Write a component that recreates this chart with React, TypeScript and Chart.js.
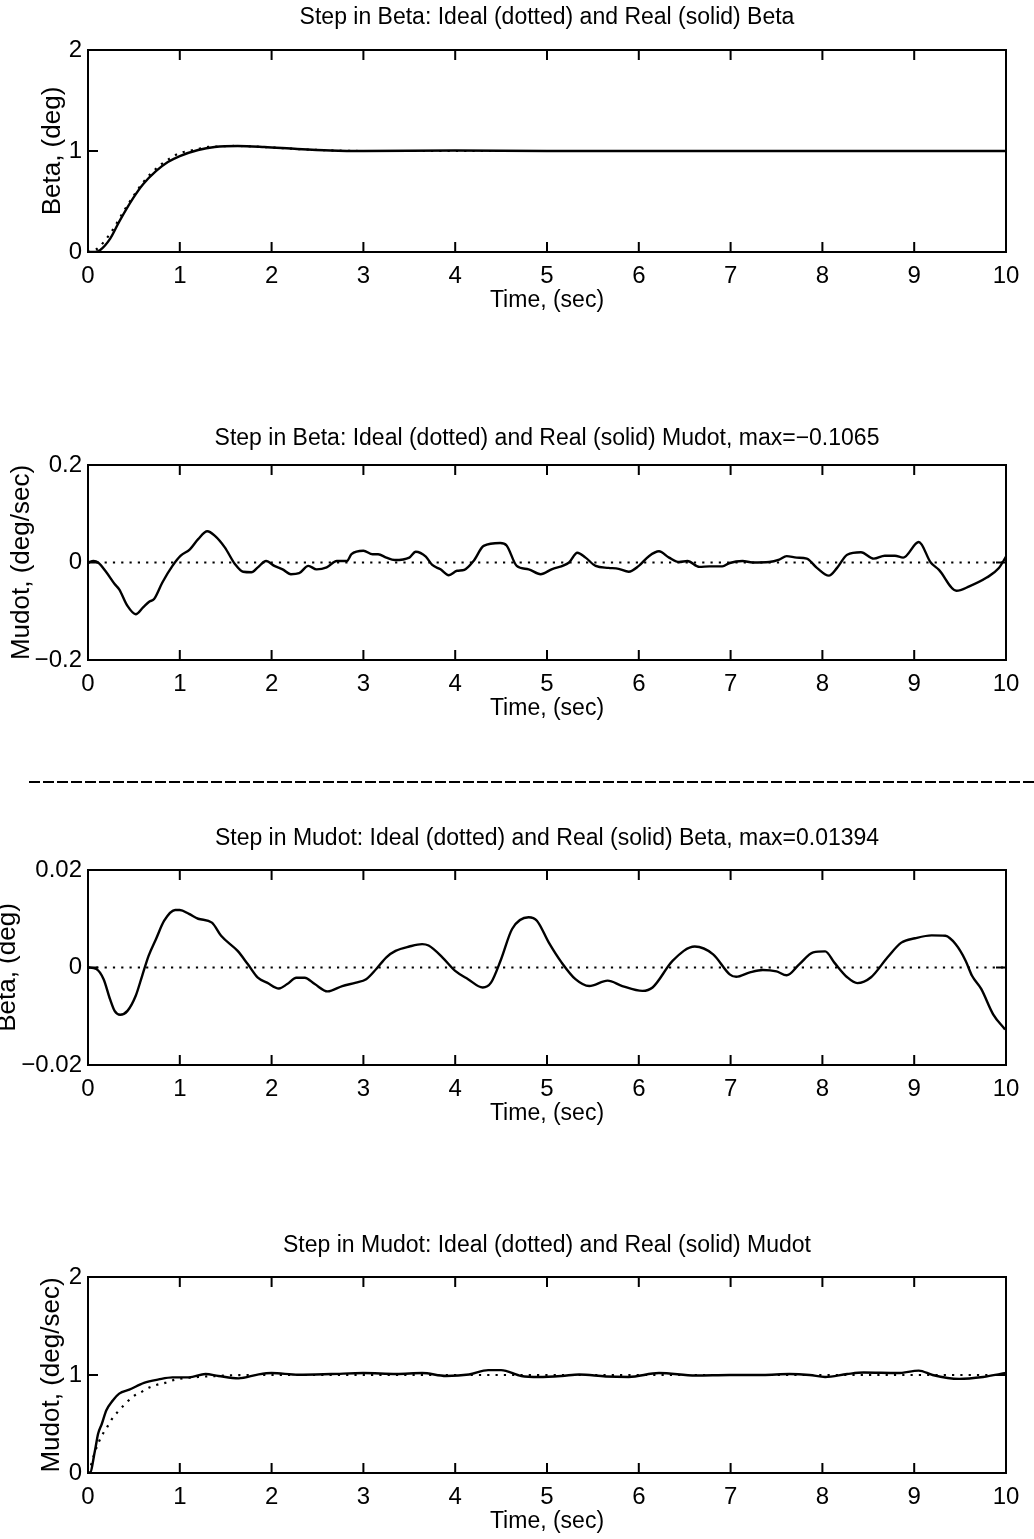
import React, { useEffect, useRef } from 'react';
import { Chart, registerables } from 'chart.js';

Chart.register(...registerables);

const FONT = "'Liberation Sans', Arial, Helvetica, sans-serif";

// ---------- Panel 1: Step in Beta, Beta ----------
const p1RealT = [0, 0.08, 0.13, 0.24, 0.34, 0.49, 0.6, 0.74, 0.87, 1.0, 1.2, 1.38, 1.63, 1.92, 2.28, 2.64, 3.0, 4.0, 5.0, 6.0, 7.0, 8.0, 9.0, 10.0];
const p1RealY = [0, 0, 0.017, 0.13, 0.3, 0.53, 0.67, 0.8, 0.89, 0.95, 1.01, 1.04, 1.05, 1.04, 1.02, 1.005, 1.0, 1.005, 1.0, 1.0, 1.0, 1.0, 1.0, 1.0];
const p1IdealT = [0, 0.05, 0.11, 0.24, 0.29, 0.4, 0.5, 0.6, 0.7, 0.8, 0.9, 1.0, 1.1, 1.2, 1.31, 1.42, 1.6, 1.8, 2.0, 2.5, 3.0, 4.0, 10.0];
const p1IdealY = [0, 0.01, 0.04, 0.18, 0.25, 0.42, 0.56, 0.69, 0.79, 0.87, 0.93, 0.98, 1.0, 1.02, 1.04, 1.045, 1.05, 1.045, 1.035, 1.01, 1.0, 1.0, 1.0];

// ---------- Panel 2: Step in Beta, Mudot ----------
const p2RealT = [0, 0.06, 0.11, 0.2, 0.29, 0.34, 0.43, 0.52, 0.6, 0.67, 0.72, 0.81, 0.92, 1.01, 1.11, 1.2, 1.3, 1.38, 1.49, 1.6, 1.69, 1.78, 1.85, 1.94, 2.03, 2.12, 2.21, 2.3, 2.4, 2.49, 2.6, 2.71, 2.82, 2.87, 3.0, 3.1, 3.16, 3.25, 3.34, 3.5, 3.57, 3.68, 3.75, 3.84, 3.93, 4.02, 4.1, 4.2, 4.31, 4.49, 4.56, 4.67, 4.8, 4.93, 5.05, 5.24, 5.33, 5.42, 5.53, 5.67, 5.78, 5.89, 6.0, 6.11, 6.22, 6.33, 6.44, 6.53, 6.66, 6.77, 6.91, 6.99, 7.13, 7.24, 7.42, 7.53, 7.61, 7.72, 7.83, 7.94, 8.07, 8.16, 8.27, 8.42, 8.56, 8.68, 8.79, 8.88, 9.05, 9.18, 9.27, 9.46, 9.6, 9.79, 9.92, 10.0];
const p2RealY = [0, 0.003, 0.0, -0.02, -0.044, -0.055, -0.089, -0.106, -0.092, -0.08, -0.075, -0.041, -0.007, 0.014, 0.027, 0.048, 0.064, 0.055, 0.031, -0.003, -0.019, -0.02, -0.01, 0.003, -0.007, -0.014, -0.024, -0.022, -0.007, -0.014, -0.01, 0.003, 0.003, 0.017, 0.024, 0.017, 0.017, 0.01, 0.005, 0.01, 0.022, 0.012, -0.005, -0.014, -0.026, -0.017, -0.015, 0.003, 0.034, 0.04, 0.035, -0.007, -0.014, -0.024, -0.014, 0.0, 0.02, 0.01, -0.007, -0.011, -0.013, -0.019, -0.007, 0.013, 0.023, 0.01, 0.001, 0.003, -0.009, -0.008, -0.008, -0.001, 0.003, 0.0, 0.001, 0.006, 0.013, 0.01, 0.008, -0.011, -0.027, -0.011, 0.016, 0.021, 0.008, 0.014, 0.014, 0.01, 0.042, 0.0, -0.015, -0.058, -0.049, -0.031, -0.012, 0.012];
const p2IdealT = [0, 10];
const p2IdealY = [0, 0];

// ---------- Panel 3: Step in Mudot, Beta ----------
const p3RealT = [0, 0.09, 0.17, 0.24, 0.29, 0.35, 0.43, 0.52, 0.59, 0.66, 0.74, 0.83, 0.95, 1.0, 1.1, 1.2, 1.35, 1.45, 1.63, 1.74, 1.85, 1.95, 2.08, 2.17, 2.27, 2.36, 2.47, 2.61, 2.77, 2.92, 3.03, 3.14, 3.25, 3.35, 3.5, 3.64, 3.71, 3.86, 4.0, 4.14, 4.3, 4.39, 4.5, 4.62, 4.8, 4.89, 5.02, 5.16, 5.31, 5.46, 5.66, 5.82, 6.04, 6.15, 6.37, 6.61, 6.81, 6.99, 7.06, 7.21, 7.35, 7.5, 7.61, 7.75, 7.9, 8.03, 8.13, 8.27, 8.38, 8.53, 8.71, 8.86, 9.01, 9.19, 9.34, 9.45, 9.56, 9.63, 9.73, 9.86, 9.99];
const p3RealY = [0, -0.0003, -0.0024, -0.0065, -0.0089, -0.0097, -0.0089, -0.0058, -0.0017, 0.0024, 0.0058, 0.0096, 0.0118, 0.0118, 0.011, 0.01, 0.0092, 0.0065, 0.0034, 0.0007, -0.0021, -0.0031, -0.0043, -0.0034, -0.0021, -0.0021, -0.0034, -0.0049, -0.0038, -0.0031, -0.0024, -0.0003, 0.0021, 0.0034, 0.0043, 0.0048, 0.0045, 0.0021, -0.0007, -0.0024, -0.0041, -0.0031, 0.0017, 0.0079, 0.0103, 0.0096, 0.0051, 0.001, -0.0024, -0.0038, -0.0027, -0.0038, -0.0048, -0.0041, 0.0014, 0.0043, 0.0027, -0.0014, -0.0019, -0.001, -0.0005, -0.0008, -0.0016, 0.0007, 0.0031, 0.0033, 0.001, -0.002, -0.0032, -0.002, 0.0021, 0.0051, 0.006, 0.0066, 0.0065, 0.0048, 0.0014, -0.0017, -0.0044, -0.0096, -0.0127];
const p3IdealT = [0, 10];
const p3IdealY = [0, 0];

// ---------- Panel 4: Step in Mudot, Mudot ----------
const p4RealT = [0, 0.02, 0.076, 0.11, 0.15, 0.2, 0.27, 0.34, 0.45, 0.61, 0.77, 0.92, 1.1, 1.28, 1.42, 1.64, 1.86, 2.0, 2.29, 2.65, 3.0, 3.36, 3.64, 3.9, 4.15, 4.36, 4.5, 4.72, 4.91, 5.16, 5.35, 5.64, 5.89, 6.22, 6.62, 6.99, 7.35, 7.64, 7.86, 8.03, 8.27, 8.45, 8.82, 9.05, 9.2, 9.49, 9.75, 10.0];
const p4RealY = [0, 0, 0.23, 0.4, 0.5, 0.64, 0.74, 0.81, 0.85, 0.92, 0.955, 0.976, 0.976, 1.01, 0.99, 0.966, 1.007, 1.02, 1.003, 1.01, 1.02, 1.01, 1.02, 0.99, 1.005, 1.05, 1.05, 0.99, 0.98, 0.99, 1.005, 0.985, 0.98, 1.02, 0.995, 1.0, 1.0, 1.01, 1.0, 0.98, 1.01, 1.025, 1.02, 1.045, 1.0, 0.96, 0.98, 1.02];
const p4IdealT = [0, 0.04, 0.07, 0.15, 0.21, 0.26, 0.33, 0.41, 0.49, 0.57, 0.66, 0.75, 0.84, 0.94, 1.03, 1.2, 1.4, 1.7, 10.0];
const p4IdealY = [0, 0.1, 0.2, 0.38, 0.47, 0.55, 0.63, 0.71, 0.78, 0.82, 0.87, 0.9, 0.92, 0.95, 0.965, 0.98, 0.99, 1.0, 1.0];

// ---------- Axis / text ----------
const titles = [
  'Step in Beta: Ideal (dotted) and Real (solid) Beta',
  'Step in Beta: Ideal (dotted) and Real (solid) Mudot, max=\u22120.1065',
  'Step in Mudot: Ideal (dotted) and Real (solid) Beta, max=0.01394',
  'Step in Mudot: Ideal (dotted) and Real (solid) Mudot',
];
const yLabels = ['Beta, (deg)', 'Mudot, (deg/sec)', 'Beta, (deg)', 'Mudot, (deg/sec)'];
const xLabel = 'Time, (sec)';
const yMins = [0, -0.2, -0.02, 0];
const yMaxs = [2, 0.2, 0.02, 2];
const ySteps = [1, 0.2, 0.02, 1];
const xMin = 0;
const xMax = 10;
const xStep = 1;

const fmt = (v: number) => {
  const r = Math.round(v * 1e6) / 1e6;
  if (r === 0) return '0';
  return (r < 0 ? '\u2212' : '') + String(Math.abs(r));
};

const boxPlugin = {
  id: 'matlabBox',
  afterDatasetsDraw(chart: any) {
    const { ctx, chartArea: a, scales } = chart;
    const T = 10;
    ctx.save();
    ctx.strokeStyle = '#000';
    ctx.lineWidth = 2;
    ctx.lineCap = 'butt';
    ctx.strokeRect(a.left, a.top, a.right - a.left, a.bottom - a.top);
    ctx.beginPath();
    scales.x.ticks.forEach((t: any) => {
      const px = scales.x.getPixelForValue(t.value);
      if (px <= a.left + 1 || px >= a.right - 1) return;
      ctx.moveTo(px, a.bottom);
      ctx.lineTo(px, a.bottom - T);
      ctx.moveTo(px, a.top);
      ctx.lineTo(px, a.top + T);
    });
    scales.y.ticks.forEach((t: any) => {
      const py = scales.y.getPixelForValue(t.value);
      if (py <= a.top + 1 || py >= a.bottom - 1) return;
      ctx.moveTo(a.left, py);
      ctx.lineTo(a.left + T, py);
      ctx.moveTo(a.right, py);
      ctx.lineTo(a.right - T, py);
    });
    ctx.stroke();
    ctx.restore();
  },
};

type Spec = {
  idx: number;
  plotTop: number;
  plotBottom: number;
  titleY: number;
  yLabelX: number;
  realT: number[];
  realY: number[];
  idealT: number[];
  idealY: number[];
};

const ABOVE = 50;
const BELOW = 62;
const W = 1034;
const PLOT_LEFT = 88;
const PLOT_RIGHT = 1006;

const specs: Spec[] = [
  { idx: 0, plotTop: 50, plotBottom: 252, titleY: 18, yLabelX: 53, realT: p1RealT, realY: p1RealY, idealT: p1IdealT, idealY: p1IdealY },
  { idx: 1, plotTop: 465, plotBottom: 660, titleY: 439, yLabelX: 22, realT: p2RealT, realY: p2RealY, idealT: p2IdealT, idealY: p2IdealY },
  { idx: 2, plotTop: 870, plotBottom: 1065, titleY: 839, yLabelX: 8, realT: p3RealT, realY: p3RealY, idealT: p3IdealT, idealY: p3IdealY },
  { idx: 3, plotTop: 1277, plotBottom: 1473, titleY: 1246, yLabelX: 52, realT: p4RealT, realY: p4RealY, idealT: p4IdealT, idealY: p4IdealY },
];

function Panel({ spec }: { spec: Spec }) {
  const ref = useRef<HTMLCanvasElement>(null);
  const top = spec.plotTop - ABOVE;
  const height = spec.plotBottom - spec.plotTop + ABOVE + BELOW;

  useEffect(() => {
    const canvas = ref.current;
    if (!canvas) return;
    const titleSize = 23;
    const titleLH = titleSize * 1.2;
    const titlePadTop = spec.titleY - top - titleLH / 2;
    const titlePadBottom = ABOVE - titleLH - titlePadTop;
    const ySize = 26;
    const yPadTop = spec.yLabelX - (ySize * 1.2) / 2;
    const tickSize = 24;
    const xTitleSize = 23;

    const chart = new Chart(canvas, {
      type: 'line',
      data: {
        datasets: [
          {
            label: 'Real',
            data: spec.realT.map((t, i) => ({ x: t, y: spec.realY[i] })),
            borderColor: '#000',
            borderWidth: 2.4,
            pointRadius: 0,
            cubicInterpolationMode: 'monotone',
            fill: false,
          },
          {
            label: 'Ideal',
            data: spec.idealT.map((t, i) => ({ x: t, y: spec.idealY[i] })),
            borderColor: '#000',
            borderWidth: 2.2,
            borderDash: [2.2, 6.1],
            borderCapStyle: 'butt',
            pointRadius: 0,
            cubicInterpolationMode: 'monotone',
            fill: false,
          },
        ],
      },
      options: {
        responsive: false,
        animation: false,
        events: [],
        layout: { padding: { top: 0, left: 0, right: W - PLOT_RIGHT, bottom: 0 } },
        plugins: {
          legend: { display: false },
          tooltip: { enabled: false },
          title: {
            display: true,
            text: titles[spec.idx],
            color: '#000',
            fullSize: false,
            font: { family: FONT, size: titleSize, weight: 'normal' },
            padding: { top: titlePadTop, bottom: titlePadBottom },
          },
        },
        scales: {
          x: {
            type: 'linear',
            min: xMin,
            max: xMax,
            grid: { display: false, drawTicks: false },
            border: { display: false },
            ticks: {
              stepSize: xStep,
              autoSkip: false,
              maxRotation: 0,
              color: '#000',
              padding: 24 - (tickSize * 1.2) / 2,
              font: { family: FONT, size: tickSize },
              callback: (v: any) => fmt(Number(v)),
            },
            title: {
              display: true,
              text: xLabel,
              color: '#000',
              font: { family: FONT, size: xTitleSize },
              padding: { top: 0, bottom: BELOW - 49 - (xTitleSize * 1.2) / 2 },
            },
            afterFit: (s: any) => {
              s.height = BELOW;
            },
          },
          y: {
            type: 'linear',
            min: yMins[spec.idx],
            max: yMaxs[spec.idx],
            grid: { display: false, drawTicks: false },
            border: { display: false },
            ticks: {
              stepSize: ySteps[spec.idx],
              autoSkip: false,
              color: '#000',
              padding: 6,
              font: { family: FONT, size: tickSize },
              callback: (v: any) => fmt(Number(v)),
            },
            title: {
              display: true,
              text: yLabels[spec.idx],
              color: '#000',
              font: { family: FONT, size: ySize },
              padding: { top: yPadTop, bottom: 0 },
            },
            afterFit: (s: any) => {
              s.width = PLOT_LEFT;
            },
          },
        },
      } as any,
      plugins: [boxPlugin],
    });
    return () => chart.destroy();
  }, []);

  return (
    <canvas
      ref={ref}
      width={W}
      height={height}
      style={{ position: 'absolute', left: 0, top, width: W, height }}
    />
  );
}

export default function App() {
  return (
    <div style={{ position: 'absolute', left: 0, top: 0, width: W, height: 1539, background: '#fff', overflow: 'hidden' }}>
      {specs.map((s) => (
        <Panel key={s.idx} spec={s} />
      ))}
      <svg style={{ position: 'absolute', left: 0, top: 780, width: W, height: 4 }} width={W} height={4}>
        <line x1={29} y1={2} x2={W} y2={2} stroke="#000" strokeWidth={2} strokeDasharray="11 3" />
      </svg>
    </div>
  );
}
